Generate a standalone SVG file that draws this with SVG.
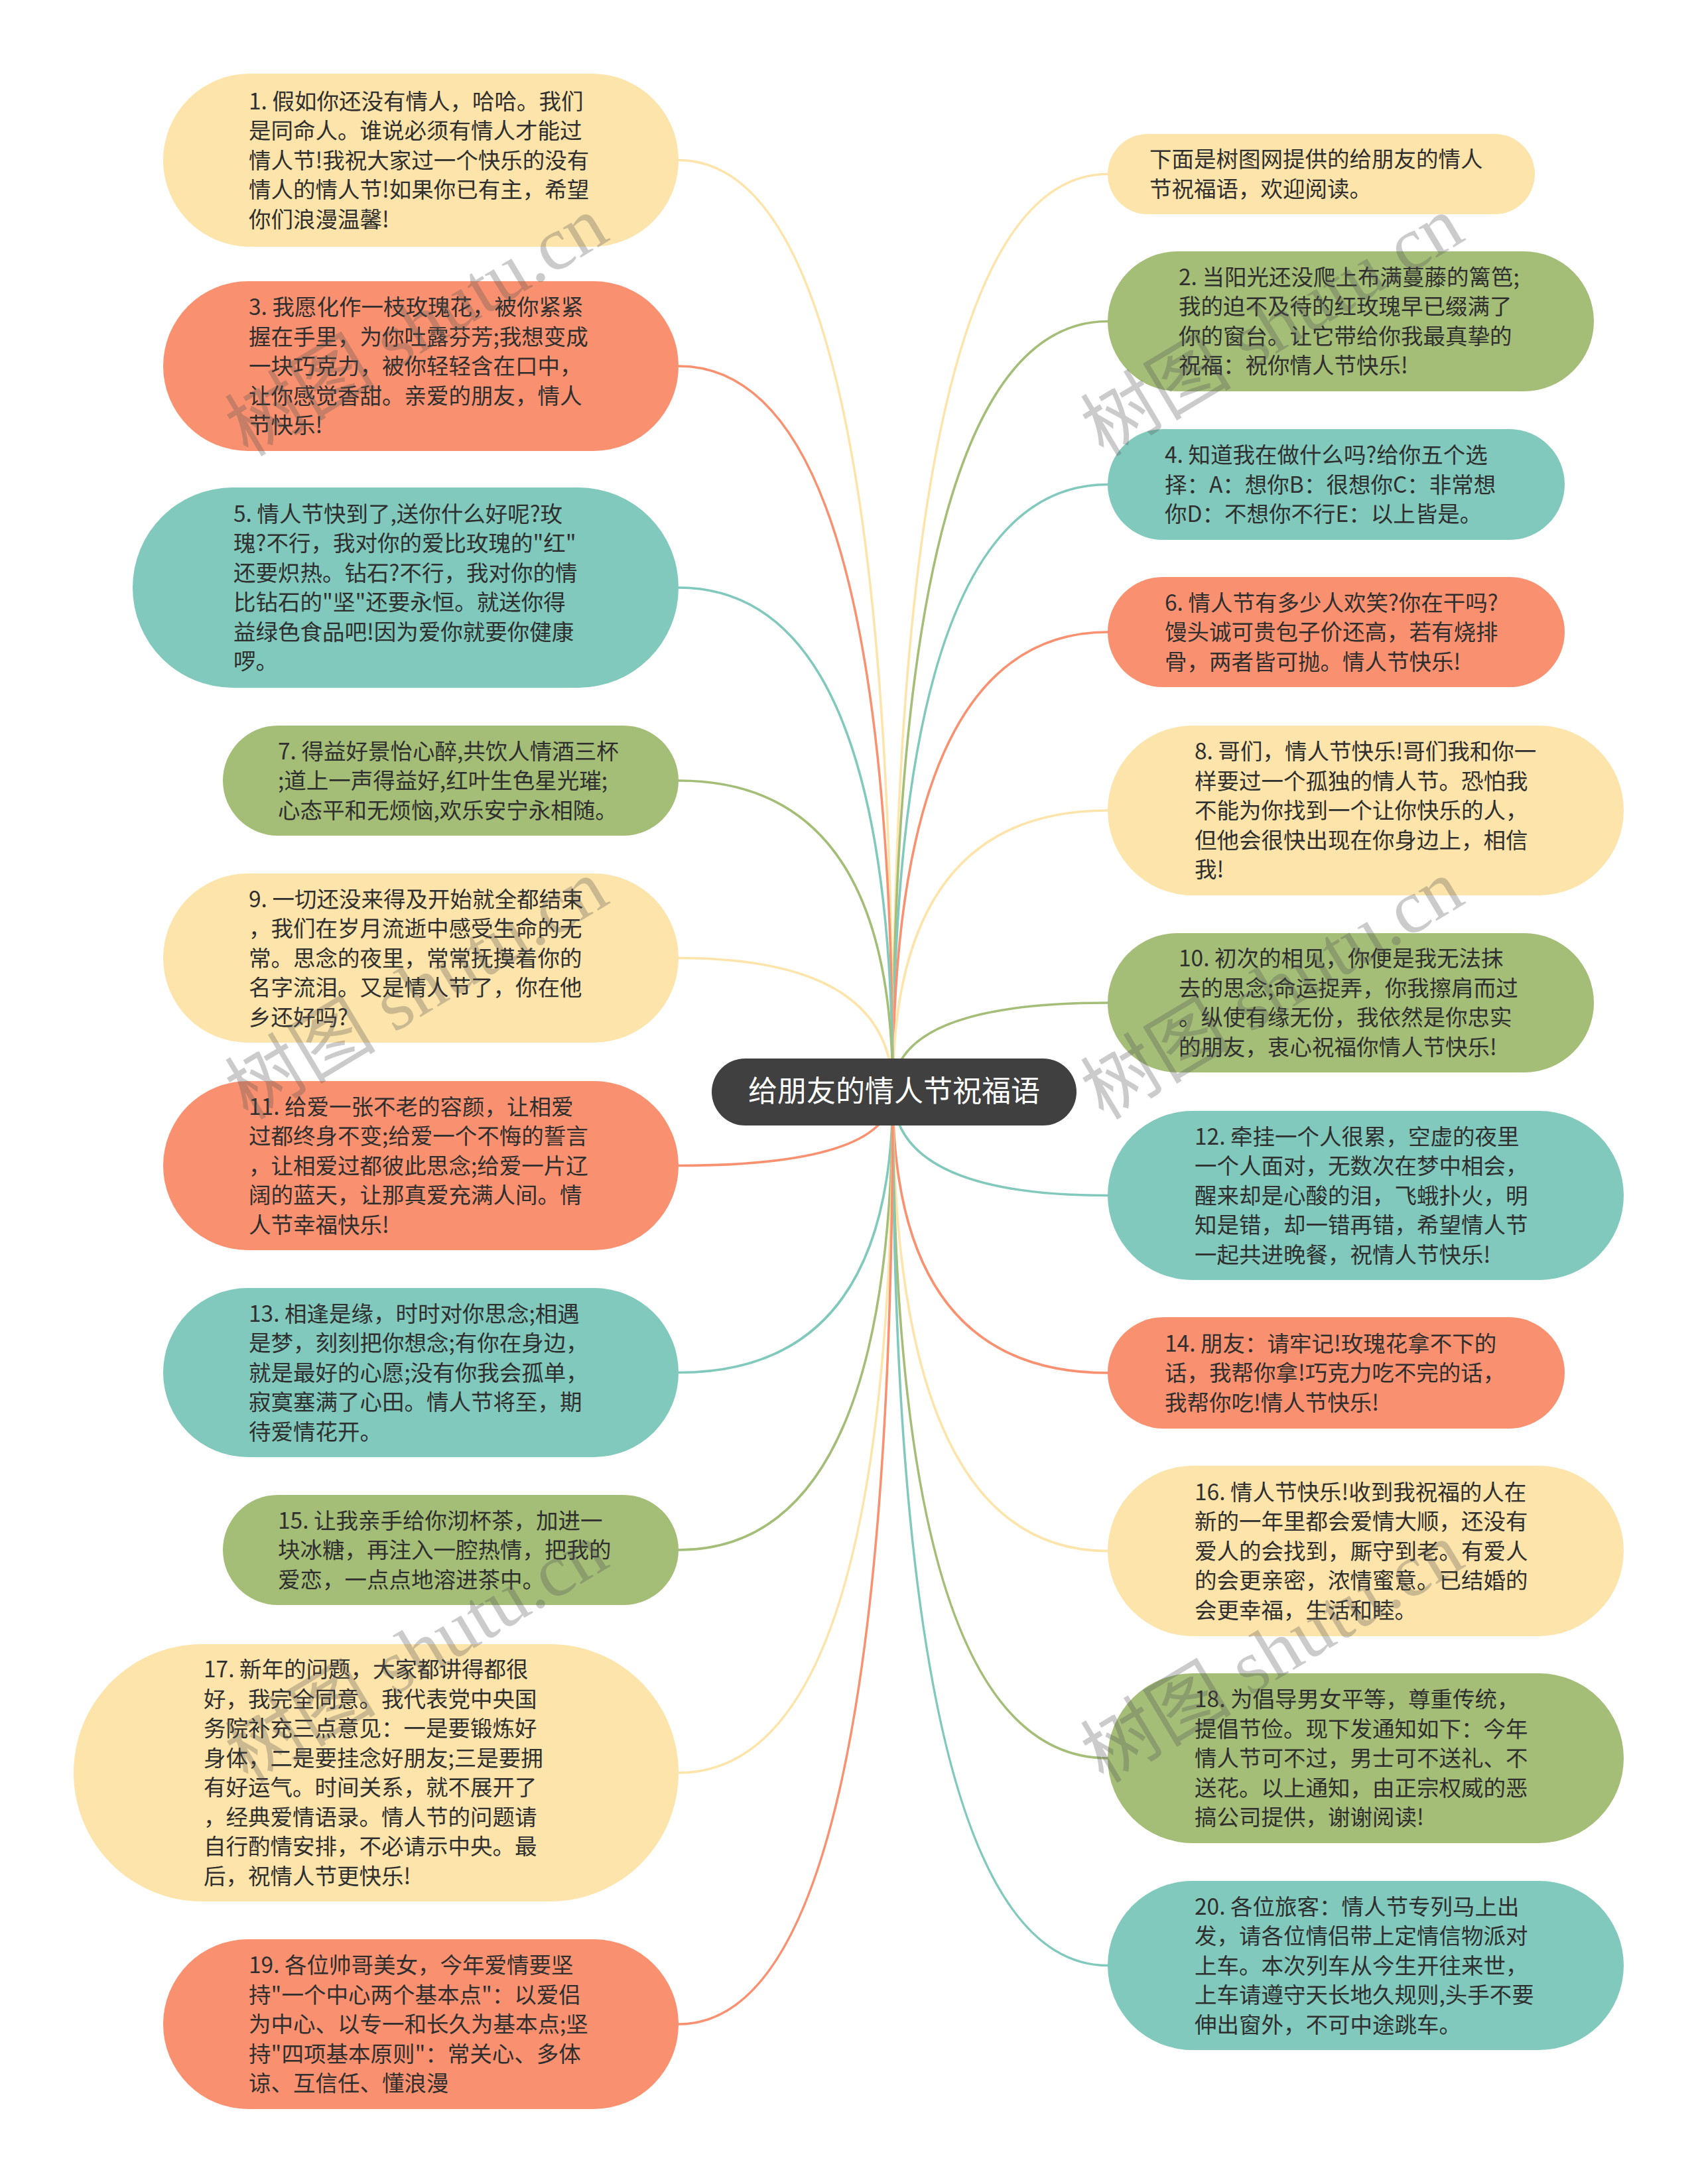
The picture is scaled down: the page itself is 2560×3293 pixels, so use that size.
<svg xmlns="http://www.w3.org/2000/svg" width="2560" height="3293" viewBox="0 0 2560 3293">
<style>
.t{font-family:"Noto Sans CJK SC","Microsoft YaHei",sans-serif;font-size:33.5px;fill:#2f2f2f}
.yel{fill:#FDE4AA}.sal{fill:#F99170}.tea{fill:#80C9BC}.grn{fill:#A4BD77}
.cy{stroke:#FDE4AA}.cs{stroke:#F99170}.ct{stroke:#80C9BC}.cg{stroke:#A4BD77}
#connectors path{fill:none;stroke-width:3.6;stroke-linecap:round}
.wm{font-family:"Liberation Serif","Noto Sans CJK SC",serif;font-size:114px;fill:#555;opacity:0.3;text-anchor:middle}
</style>
<rect width="2560" height="3293" fill="#ffffff"/>
<g id="connectors">
<path class="cy" d="M1346,1646 Q1346,262.5 1670,262.5"/>
<path class="cg" d="M1346,1646 Q1346,484.5 1670,484.5"/>
<path class="ct" d="M1346,1646 Q1346,730.5 1670,730.5"/>
<path class="cs" d="M1346,1646 Q1346,953 1670,953"/>
<path class="cy" d="M1346,1646 Q1346,1222 1670,1222"/>
<path class="cg" d="M1346,1646 Q1346,1512 1670,1512"/>
<path class="ct" d="M1346,1646 Q1346,1802.5 1670,1802.5"/>
<path class="cs" d="M1346,1646 Q1346,2070 1670,2070"/>
<path class="cy" d="M1346,1646 Q1346,2338.5 1670,2338.5"/>
<path class="cg" d="M1346,1646 Q1346,2651 1670,2651"/>
<path class="ct" d="M1346,1646 Q1346,2963.5 1670,2963.5"/>
<path class="cy" d="M1346,1646 Q1346,241.5 1023,241.5"/>
<path class="cs" d="M1346,1646 Q1346,552 1023,552"/>
<path class="ct" d="M1346,1646 Q1346,886 1023,886"/>
<path class="cg" d="M1346,1646 Q1346,1177 1023,1177"/>
<path class="cy" d="M1346,1646 Q1346,1444.5 1023,1444.5"/>
<path class="cs" d="M1346,1646 Q1346,1757.5 1023,1757.5"/>
<path class="ct" d="M1346,1646 Q1346,2069.5 1023,2069.5"/>
<path class="cg" d="M1346,1646 Q1346,2337 1023,2337"/>
<path class="cy" d="M1346,1646 Q1346,2673 1023,2673"/>
<path class="cs" d="M1346,1646 Q1346,3052 1023,3052"/>
</g>

<g id="center">
<rect x="1073" y="1596" width="550" height="101" rx="50.5" fill="#404040"/>
<text x="1348" y="1661" text-anchor="middle" font-family="Noto Sans CJK SC,sans-serif" font-size="44" fill="#ffffff">给朋友的情人节祝福语</text>
</g>

<g id="node-0">
<rect class="yel" x="1670" y="202" width="644" height="121" rx="60.5"/>
<text class="t"><tspan x="1733" y="252.25">下面是树图网提供的给朋友的情人</tspan><tspan x="1733" y="296.75">节祝福语，欢迎阅读。</tspan></text>
</g>
<g id="node-1">
<rect class="yel" x="246" y="111" width="777" height="261" rx="130.5"/>
<text class="t"><tspan x="375" y="164.5">1. 假如你还没有情人，哈哈。我们</tspan><tspan x="375" y="209">是同命人。谁说必须有情人才能过</tspan><tspan x="375" y="253.5">情人节!我祝大家过一个快乐的没有</tspan><tspan x="375" y="298">情人的情人节!如果你已有主，希望</tspan><tspan x="375" y="342.5">你们浪漫温馨!</tspan></text>
</g>
<g id="node-2">
<rect class="grn" x="1670" y="379" width="733" height="211" rx="105.5"/>
<text class="t"><tspan x="1777" y="429.75">2. 当阳光还没爬上布满蔓藤的篱笆;</tspan><tspan x="1777" y="474.25">我的迫不及待的红玫瑰早已缀满了</tspan><tspan x="1777" y="518.75">你的窗台。让它带给你我最真挚的</tspan><tspan x="1777" y="563.25">祝福：祝你情人节快乐!</tspan></text>
</g>
<g id="node-3">
<rect class="sal" x="246" y="424" width="777" height="256" rx="128"/>
<text class="t"><tspan x="375" y="475">3. 我愿化作一枝玫瑰花，被你紧紧</tspan><tspan x="375" y="519.5">握在手里，为你吐露芬芳;我想变成</tspan><tspan x="375" y="564">一块巧克力，被你轻轻含在口中，</tspan><tspan x="375" y="608.5">让你感觉香甜。亲爱的朋友，情人</tspan><tspan x="375" y="653">节快乐!</tspan></text>
</g>
<g id="node-4">
<rect class="tea" x="1670" y="647" width="689" height="167" rx="83.5"/>
<text class="t"><tspan x="1756" y="698">4. 知道我在做什么吗?给你五个选</tspan><tspan x="1756" y="742.5">择：A：想你B：很想你C：非常想</tspan><tspan x="1756" y="787">你D：不想你不行E：以上皆是。</tspan></text>
</g>
<g id="node-5">
<rect class="tea" x="200" y="735" width="823" height="302" rx="151"/>
<text class="t"><tspan x="352" y="786.75">5. 情人节快到了,送你什么好呢?玫</tspan><tspan x="352" y="831.25">瑰?不行，我对你的爱比玫瑰的"红"</tspan><tspan x="352" y="875.75">还要炽热。钻石?不行，我对你的情</tspan><tspan x="352" y="920.25">比钻石的"坚"还要永恒。就送你得</tspan><tspan x="352" y="964.75">益绿色食品吧!因为爱你就要你健康</tspan><tspan x="352" y="1009.25">啰。</tspan></text>
</g>
<g id="node-6">
<rect class="sal" x="1670" y="870" width="689" height="166" rx="83"/>
<text class="t"><tspan x="1756" y="920.5">6. 情人节有多少人欢笑?你在干吗?</tspan><tspan x="1756" y="965">馒头诚可贵包子价还高，若有烧排</tspan><tspan x="1756" y="1009.5">骨，两者皆可抛。情人节快乐!</tspan></text>
</g>
<g id="node-7">
<rect class="grn" x="336" y="1094" width="687" height="166" rx="83"/>
<text class="t"><tspan x="419" y="1144.5">7. 得益好景怡心醉,共饮人情酒三杯</tspan><tspan x="419" y="1189">;道上一声得益好,红叶生色星光璀;</tspan><tspan x="419" y="1233.5">心态平和无烦恼,欢乐安宁永相随。</tspan></text>
</g>
<g id="node-8">
<rect class="yel" x="1670" y="1094" width="778" height="256" rx="128"/>
<text class="t"><tspan x="1801" y="1145">8. 哥们，情人节快乐!哥们我和你一</tspan><tspan x="1801" y="1189.5">样要过一个孤独的情人节。恐怕我</tspan><tspan x="1801" y="1234">不能为你找到一个让你快乐的人，</tspan><tspan x="1801" y="1278.5">但他会很快出现在你身边上，相信</tspan><tspan x="1801" y="1323">我!</tspan></text>
</g>
<g id="node-9">
<rect class="yel" x="246" y="1317" width="777" height="255" rx="127.5"/>
<text class="t"><tspan x="375" y="1367.5">9. 一切还没来得及开始就全都结束</tspan><tspan x="375" y="1412">，我们在岁月流逝中感受生命的无</tspan><tspan x="375" y="1456.5">常。思念的夜里，常常抚摸着你的</tspan><tspan x="375" y="1501">名字流泪。又是情人节了，你在他</tspan><tspan x="375" y="1545.5">乡还好吗?</tspan></text>
</g>
<g id="node-10">
<rect class="grn" x="1670" y="1407" width="733" height="210" rx="105"/>
<text class="t"><tspan x="1777" y="1457.25">10. 初次的相见，你便是我无法抹</tspan><tspan x="1777" y="1501.75">去的思念;命运捉弄，你我擦肩而过</tspan><tspan x="1777" y="1546.25">。纵使有缘无份，我依然是你忠实</tspan><tspan x="1777" y="1590.75">的朋友，衷心祝福你情人节快乐!</tspan></text>
</g>
<g id="node-11">
<rect class="sal" x="246" y="1630" width="777" height="255" rx="127.5"/>
<text class="t"><tspan x="375" y="1680.5">11. 给爱一张不老的容颜，让相爱</tspan><tspan x="375" y="1725">过都终身不变;给爱一个不悔的誓言</tspan><tspan x="375" y="1769.5">，让相爱过都彼此思念;给爱一片辽</tspan><tspan x="375" y="1814">阔的蓝天，让那真爱充满人间。情</tspan><tspan x="375" y="1858.5">人节幸福快乐!</tspan></text>
</g>
<g id="node-12">
<rect class="tea" x="1670" y="1675" width="778" height="255" rx="127.5"/>
<text class="t"><tspan x="1801" y="1725.5">12. 牵挂一个人很累，空虚的夜里</tspan><tspan x="1801" y="1770">一个人面对，无数次在梦中相会，</tspan><tspan x="1801" y="1814.5">醒来却是心酸的泪，飞蛾扑火，明</tspan><tspan x="1801" y="1859">知是错，却一错再错，希望情人节</tspan><tspan x="1801" y="1903.5">一起共进晚餐，祝情人节快乐!</tspan></text>
</g>
<g id="node-13">
<rect class="tea" x="246" y="1942" width="777" height="255" rx="127.5"/>
<text class="t"><tspan x="375" y="1992.5">13. 相逢是缘，时时对你思念;相遇</tspan><tspan x="375" y="2037">是梦，刻刻把你想念;有你在身边，</tspan><tspan x="375" y="2081.5">就是最好的心愿;没有你我会孤单，</tspan><tspan x="375" y="2126">寂寞塞满了心田。情人节将至，期</tspan><tspan x="375" y="2170.5">待爱情花开。</tspan></text>
</g>
<g id="node-14">
<rect class="sal" x="1670" y="1986" width="689" height="168" rx="84"/>
<text class="t"><tspan x="1756" y="2037.5">14. 朋友：请牢记!玫瑰花拿不下的</tspan><tspan x="1756" y="2082">话，我帮你拿!巧克力吃不完的话，</tspan><tspan x="1756" y="2126.5">我帮你吃!情人节快乐!</tspan></text>
</g>
<g id="node-15">
<rect class="grn" x="336" y="2254" width="687" height="166" rx="83"/>
<text class="t"><tspan x="419" y="2304.5">15. 让我亲手给你沏杯茶，加进一</tspan><tspan x="419" y="2349">块冰糖，再注入一腔热情，把我的</tspan><tspan x="419" y="2393.5">爱恋，一点点地溶进茶中。</tspan></text>
</g>
<g id="node-16">
<rect class="yel" x="1670" y="2210" width="778" height="257" rx="128.5"/>
<text class="t"><tspan x="1801" y="2261.5">16. 情人节快乐!收到我祝福的人在</tspan><tspan x="1801" y="2306">新的一年里都会爱情大顺，还没有</tspan><tspan x="1801" y="2350.5">爱人的会找到，厮守到老。有爱人</tspan><tspan x="1801" y="2395">的会更亲密，浓情蜜意。已结婚的</tspan><tspan x="1801" y="2439.5">会更幸福，生活和睦。</tspan></text>
</g>
<g id="node-17">
<rect class="yel" x="111" y="2479" width="912" height="388" rx="194"/>
<text class="t"><tspan x="307" y="2529">17. 新年的问题，大家都讲得都很</tspan><tspan x="307" y="2573.5">好，我完全同意。我代表党中央国</tspan><tspan x="307" y="2618">务院补充三点意见：一是要锻炼好</tspan><tspan x="307" y="2662.5">身体，二是要挂念好朋友;三是要拥</tspan><tspan x="307" y="2707">有好运气。时间关系，就不展开了</tspan><tspan x="307" y="2751.5">，经典爱情语录。情人节的问题请</tspan><tspan x="307" y="2796">自行酌情安排，不必请示中央。最</tspan><tspan x="307" y="2840.5">后，祝情人节更快乐!</tspan></text>
</g>
<g id="node-18">
<rect class="grn" x="1670" y="2523" width="778" height="256" rx="128"/>
<text class="t"><tspan x="1801" y="2574">18. 为倡导男女平等，尊重传统，</tspan><tspan x="1801" y="2618.5">提倡节俭。现下发通知如下：今年</tspan><tspan x="1801" y="2663">情人节可不过，男士可不送礼、不</tspan><tspan x="1801" y="2707.5">送花。以上通知，由正宗权威的恶</tspan><tspan x="1801" y="2752">搞公司提供，谢谢阅读!</tspan></text>
</g>
<g id="node-19">
<rect class="sal" x="246" y="2924" width="777" height="256" rx="128"/>
<text class="t"><tspan x="375" y="2975">19. 各位帅哥美女，今年爱情要坚</tspan><tspan x="375" y="3019.5">持"一个中心两个基本点"：以爱侣</tspan><tspan x="375" y="3064">为中心、以专一和长久为基本点;坚</tspan><tspan x="375" y="3108.5">持"四项基本原则"：常关心、多体</tspan><tspan x="375" y="3153">谅、互信任、懂浪漫</tspan></text>
</g>
<g id="node-20">
<rect class="tea" x="1670" y="2836" width="778" height="255" rx="127.5"/>
<text class="t"><tspan x="1801" y="2886.5">20. 各位旅客：情人节专列马上出</tspan><tspan x="1801" y="2931">发，请各位情侣带上定情信物派对</tspan><tspan x="1801" y="2975.5">上车。本次列车从今生开往来世，</tspan><tspan x="1801" y="3020">上车请遵守天长地久规则,头手不要</tspan><tspan x="1801" y="3064.5">伸出窗外，不可中途跳车。</tspan></text>
</g>

<g id="watermarks">
<text class="wm" transform="translate(648,525) rotate(-31)">树图 shutu.cn</text>
<text class="wm" transform="translate(1938,525) rotate(-31)">树图 shutu.cn</text>
<text class="wm" transform="translate(648,1525) rotate(-31)">树图 shutu.cn</text>
<text class="wm" transform="translate(1938,1525) rotate(-31)">树图 shutu.cn</text>
<text class="wm" transform="translate(648,2525) rotate(-31)">树图 shutu.cn</text>
<text class="wm" transform="translate(1938,2525) rotate(-31)">树图 shutu.cn</text>
</g>
</svg>
